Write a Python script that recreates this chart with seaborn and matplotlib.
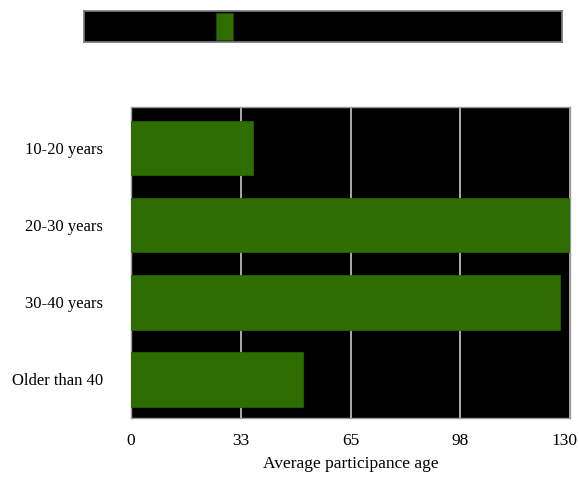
import matplotlib
matplotlib.use("Agg")
import matplotlib.pyplot as plt
import matplotlib.transforms as mtransforms
import seaborn as sns
import pandas as pd
from matplotlib.patches import Rectangle

sns.set_theme(style="white")
plt.rcParams['font.family'] = ['Liberation Serif', 'DejaVu Serif']
plt.rcParams['text.color'] = 'black'
plt.rcParams['axes.labelcolor'] = 'black'

age_groups = ["10-20 years", "20-30 years", "30-40 years", "Older than 40"]
avg_values = [36, 130, 127, 51]
tick_values = [0, 32.5, 65, 97.5, 130]
tick_labels = ["0", "33", "65", "98", "130"]

GREEN = "#2e6e00"

df = pd.DataFrame({"group": age_groups, "value": avg_values})

fig = plt.figure(figsize=(5.79, 4.84), dpi=100)
ax = fig.add_axes([131 / 579, 1 - 418 / 484, (570 - 131) / 579, (418 - 107) / 484])
ax.set_facecolor("black")

sns.barplot(data=df, y="group", x="value", color=GREEN, saturation=1,
            width=0.71, orient="h", ax=ax, zorder=3,
            edgecolor="#285f00", linewidth=0.6)

ax.set_xlim(0, 130)
ax.set_ylim(3.5, -0.53)
ax.set_xticks(tick_values)
ax.set_xticklabels(tick_labels)
ax.xaxis.grid(True, color="#c8c8c8", linewidth=1.2, zorder=1)
ax.set_axisbelow(True)
ax.tick_params(axis="both", length=0, labelsize=12.5, colors="black")
ax.tick_params(axis="y", pad=20, labelsize=12)
ax.tick_params(axis="x", pad=11)
ax.set_ylabel("")
ax.set_xlabel("Average participance age", fontsize=12.5, labelpad=5, color="black")
for s in ax.spines.values():
    s.set_color("#9a9a9a")
    s.set_linewidth(1)

# keep the last tick label inside the figure
last = ax.get_xticklabels()[-1]
last.set_transform(last.get_transform() + mtransforms.ScaledTranslation(-6 / 100, 0, fig.dpi_scale_trans))

# top legend strip
lax = fig.add_axes([84 / 579, 1 - 42 / 484, (562 - 84) / 579, 31 / 484])
lax.set_facecolor("black")
lax.set_xticks([])
lax.set_yticks([])
for s in lax.spines.values():
    s.set_color("#7a7a7a")
lax.add_patch(Rectangle((0.276, 0.08), 0.036, 0.84, transform=lax.transAxes,
                        facecolor=GREEN, edgecolor="#1e4a00", linewidth=0.6))

fig.savefig("out.png", dpi=100)
